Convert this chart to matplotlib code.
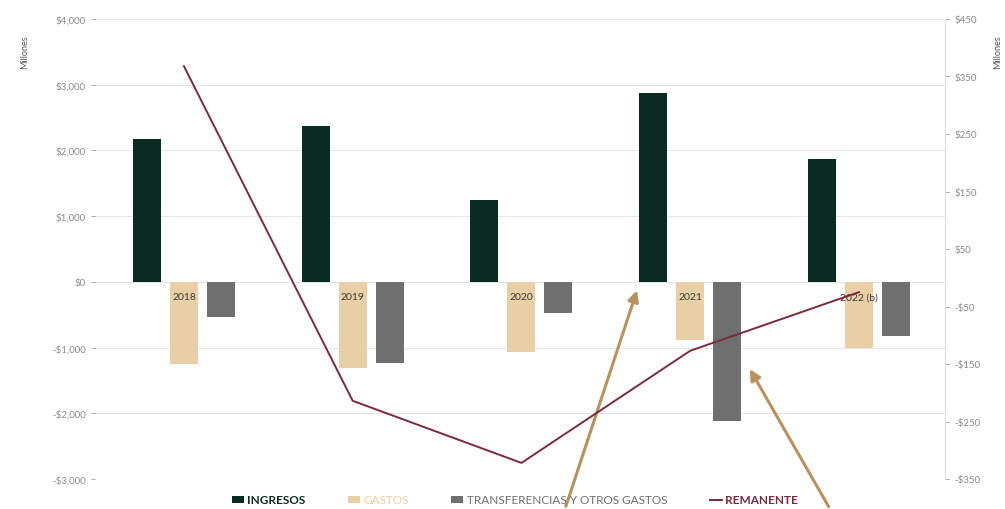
import matplotlib.pyplot as plt
import numpy as np
from matplotlib.ticker import FuncFormatter

plt.rcParams["font.family"] = ["Lato", "DejaVu Sans"]

years = ["2018", "2019", "2020", "2021", "2022 (b)"]
ingresos = [2170, 2365, 1250, 2870, 1865]
gastos = [-1250, -1310, -1070, -885, -1010]
transferencias = [-535, -1235, -475, -2120, -825]
remanente = [368, -214, -322, -127, -25]

c_ing = "#0b2a22"
c_gas = "#e9cfa6"
c_tra = "#6f6f6f"
c_rem = "#7b2b3c"
c_arrow = "#b8915c"
c_tick = "#8a8a8a"


def money(v, pos):
    if v < 0:
        return "-${:,.0f}".format(-v)
    return "${:,.0f}".format(v)


fig = plt.figure(figsize=(10.05, 5.1), dpi=100)
ax = fig.add_axes([95 / 1005, 30 / 510, 850 / 1005, 460 / 510])
ax2 = ax.twinx()

x = np.arange(len(years))
w = 0.166
off = 0.219
b1 = ax.bar(x - off, ingresos, w, color=c_ing, label="INGRESOS", zorder=3)
b2 = ax.bar(x, gastos, w, color=c_gas, label="GASTOS", zorder=3)
b3 = ax.bar(x + off, transferencias, w, color=c_tra,
            label="TRANSFERENCIAS Y OTROS GASTOS", zorder=3)
l1, = ax2.plot(x, remanente, color=c_rem, lw=1.4, label="REMANENTE")

ax.set_xlim(-0.527, 4.51)
ax.set_ylim(-3000, 4000)
ax.set_yticks(np.arange(-3000, 4001, 1000))
ax.yaxis.set_major_formatter(FuncFormatter(money))
ax.grid(axis="y", color="#e6e6e6", lw=0.8, zorder=0)
ax.set_axisbelow(True)

ax2.set_ylim(-350, 450)
ax2.set_yticks(np.arange(-350, 451, 100))
ax2.yaxis.set_major_formatter(FuncFormatter(money))

# year labels sit on the zero line
ax.set_xticks(x)
ax.set_xticklabels([])
for xi, yr in zip(x, years):
    ax.text(xi, -230, yr, ha="center", va="center", fontsize=7.5,
            color="#3a3a3a", zorder=4)
ax.tick_params(axis="x", length=0)

for a in (ax, ax2):
    a.tick_params(axis="y", labelsize=7, colors=c_tick, length=3, width=0.5)
    for s in a.spines.values():
        s.set_visible(False)
ax2.spines["right"].set_visible(True)
ax2.spines["right"].set_color("#e0e0e0")
ax2.spines["right"].set_linewidth(0.8)

ax.set_ylabel("Millones", fontsize=6.5, color="#555555", labelpad=2)
ax.yaxis.set_label_coords(-0.077, 0.93)
ax2.set_ylabel("Millones", fontsize=6.5, color="#555555", labelpad=2)
ax2.yaxis.set_label_coords(1.057, 0.93)

leg = fig.legend(handles=[b1, b2, b3, l1], loc="center", ncol=4,
                 bbox_to_anchor=(515 / 1005, 1 - 501 / 510), frameon=False,
                 fontsize=8.5, handlelength=1.0, handleheight=0.6,
                 columnspacing=3.6, handletextpad=0.3)
for t, c in zip(leg.get_texts(), [c_ing, c_gas, c_tra, c_rem]):
    t.set_color(c)
leg.get_texts()[0].set_fontweight("bold")
leg.get_texts()[3].set_fontweight("bold")

# highlight arrows
ax.annotate("", xy=(3 - 0.31, -90), xycoords="data",
            xytext=(565 / 1005, 0.0), textcoords="figure fraction",
            arrowprops=dict(arrowstyle="-|>", color=c_arrow, lw=2.2,
                        mutation_scale=16), zorder=6, annotation_clip=False)
ax.annotate("", xy=(3 + 0.345, -1290), xycoords="data",
            xytext=(830 / 1005, 0.0), textcoords="figure fraction",
            arrowprops=dict(arrowstyle="-|>", color=c_arrow, lw=2.2,
                        mutation_scale=16), zorder=6, annotation_clip=False)

fig.savefig("out.png", dpi=100)
